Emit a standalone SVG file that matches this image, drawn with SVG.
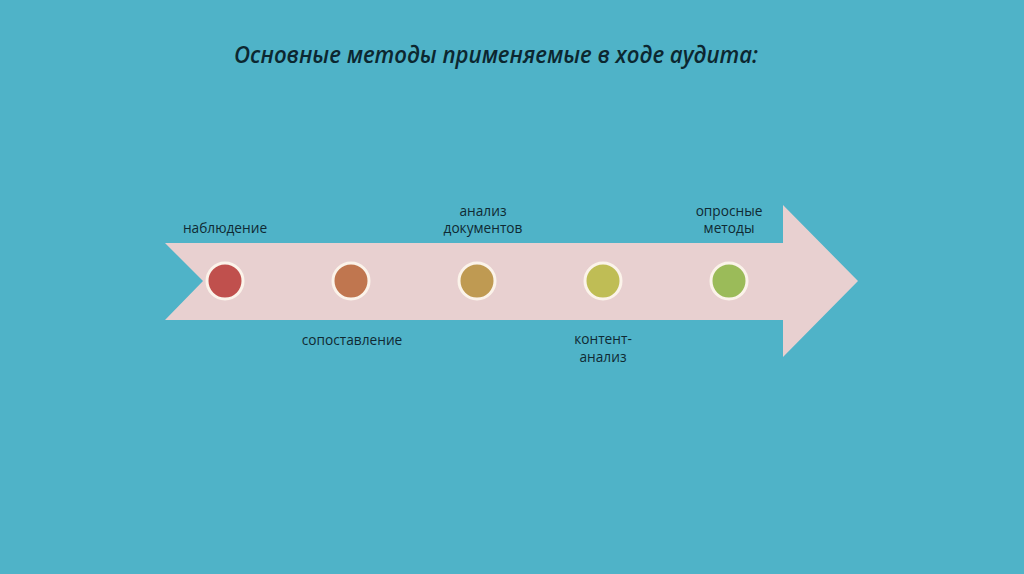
<svg xmlns="http://www.w3.org/2000/svg" width="1024" height="574" viewBox="0 0 1024 574">
<style>
.lbl{font-family:"Open Sans","Liberation Sans",sans-serif;font-size:13.7px;fill:#0f2a33;text-anchor:middle}
.dot{stroke:#fbf3ea;stroke-width:3}
</style>
<rect width="1024" height="574" fill="#4fb3c8"/>
<text x="496" y="63" font-family="Open Sans, Liberation Sans, sans-serif" font-style="italic" font-weight="600" font-size="23" fill="#0c2730" text-anchor="middle" textLength="524" lengthAdjust="spacingAndGlyphs">Основные методы применяемые в ходе аудита:</text>
<g id="arrow">
<polygon points="165,243 783,243 783,205 858,281 783,357 783,320 165,320 203,281" fill="#e8d0d0"/>
</g>
<g id="connectors"></g>
<g id="n1"><circle class="dot" cx="225" cy="281" r="18" fill="#c0504d"/><text class="lbl" x="225" y="233">наблюдение</text></g>
<g id="n2"><circle class="dot" cx="351" cy="281" r="18" fill="#c0764f"/><text class="lbl" x="352" y="345">сопоставление</text></g>
<g id="n3"><circle class="dot" cx="477" cy="281" r="18" fill="#bf9a52"/><text class="lbl" x="483" y="216">анализ</text><text class="lbl" x="483" y="233">документов</text></g>
<g id="n4"><circle class="dot" cx="603" cy="281" r="18" fill="#bfbd55"/><text class="lbl" x="603" y="344">контент-</text><text class="lbl" x="603" y="362">анализ</text></g>
<g id="n5"><circle class="dot" cx="729" cy="281" r="18" fill="#9bbb59"/><text class="lbl" x="729" y="216">опросные</text><text class="lbl" x="729" y="233">методы</text></g>
</svg>
